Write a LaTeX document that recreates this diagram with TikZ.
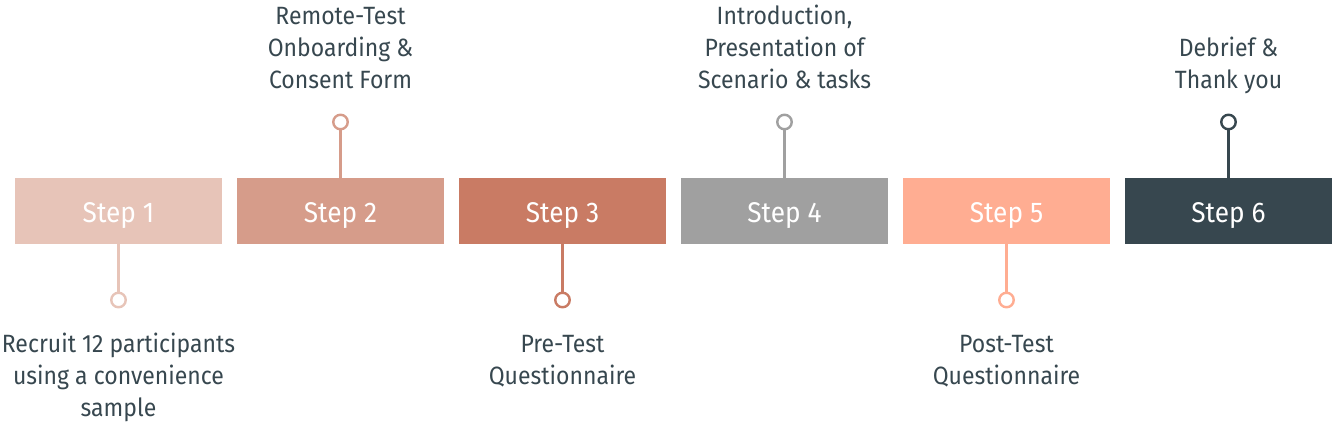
\documentclass[tikz,border=0pt]{standalone}
\usepackage{fontspec}
\setmainfont[FakeStretch=0.92]{Fira Sans}
\definecolor{c1}{HTML}{E7C4B8}
\definecolor{c2}{HTML}{D69C8A}
\definecolor{c3}{HTML}{C97B64}
\definecolor{c4}{HTML}{A0A0A0}
\definecolor{c5}{HTML}{FFAD92}
\definecolor{c6}{HTML}{37474F}
\definecolor{txt}{HTML}{37474F}
\begin{document}
\begin{tikzpicture}[x=1pt,y=-1pt,
  stepbox/.style={fill=#1, minimum width=207pt, minimum height=66pt, inner sep=0pt,
    text height=25pt, text depth=2pt,
    text=white, font=\fontsize{28.5}{32}\selectfont},
  stem/.style={draw=#1, line width=2.4pt},
  dot/.style={circle, draw=#1, line width=2.4pt, fill=white, minimum size=14.5pt, inner sep=0pt},
  lab/.style={text=txt, align=center, font=\fontsize{25}{32}\selectfont, inner sep=0pt}]
\useasboundingbox (0,0) rectangle (1332,423);
\foreach \i/\c in {1/c1,2/c2,3/c3,4/c4,5/c5,6/c6}{
  \node[stepbox=\c] (s\i) at ({118.5+222*(\i-1)},211) {Step \i};
}
% down connectors
\foreach \i/\c in {1/c1,3/c3,5/c5}{
  \coordinate (d\i) at ({118.5+222*(\i-1)},300);
  \draw[stem=\c] (s\i.south) -- (d\i);
  \node[dot=\c] (p\i) at (d\i) {};
}
% up connectors
\foreach \i/\c in {2/c2,4/c4,6/c6}{
  \coordinate (u\i) at ({118.5+222*(\i-1)},122);
  \draw[stem=\c] (s\i.north) -- (u\i);
  \node[dot=\c] (p\i) at (u\i) {};
}
\node[lab, anchor=base] (t1) at (118.5,416) {Recruit 12 participants\\using a convenience\\sample};
\node[lab, anchor=base] (t3) at (562.5,384) {Pre-Test\\Questionnaire};
\node[lab, anchor=base] (t5) at (1006.5,384) {Post-Test\\Questionnaire};
\node[lab, anchor=base] (t2) at (340.5,88) {Remote-Test\\Onboarding \&\\Consent Form};
\node[lab, anchor=base] (t4) at (784.5,88) {Introduction,\\Presentation of\\Scenario \& tasks};
\node[lab, anchor=base] (t6) at (1228.5,88) {Debrief \&\\Thank you};
\end{tikzpicture}
\end{document}
